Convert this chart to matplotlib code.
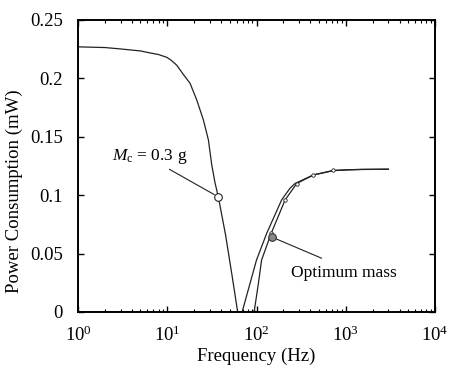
import matplotlib
matplotlib.use("Agg")
import matplotlib.pyplot as plt
from matplotlib.ticker import FixedLocator, FixedFormatter, LogLocator, NullFormatter

plt.rcParams['font.family'] = ['Liberation Serif', 'DejaVu Serif']
plt.rcParams['mathtext.fontset'] = 'custom'
plt.rcParams['mathtext.rm'] = 'Liberation Serif'
plt.rcParams['mathtext.it'] = 'Liberation Serif:italic'

# Curve: Mc = 0.3 g
freq_mc = [1, 2, 3, 5, 6.4, 8, 9.9, 11.2, 12.8, 15.1, 18, 21.4, 25.4, 28.9, 31.5, 34.3,
           37.3, 45, 53, 61.5, 69,
           84.6, 100, 130, 191, 237, 270, 433, 725, 1000, 1500, 3000]
power_mc = [0.227, 0.2264, 0.2252, 0.2235, 0.2218, 0.2204, 0.2180, 0.2152, 0.2112,
            0.2035, 0.1958, 0.1815, 0.1644, 0.1473, 0.1260, 0.1105,
            0.0987, 0.066, 0.032, 0.0, 0.0,
            0.0245, 0.0445, 0.0673, 0.0959, 0.1059, 0.110, 0.1173, 0.1210, 0.1216,
            0.1220, 0.1222]

# Curve: Optimum mass
freq_opt = [1, 10, 50, 94, 105, 114, 146, 209, 282, 433, 725, 1000, 1500, 3000]
power_opt = [0.0, 0.0, 0.0, 0.0, 0.0245, 0.0445, 0.0673, 0.0959, 0.110, 0.1173,
             0.1212, 0.1217, 0.1221, 0.1223]

# Marker points
mc_point = (37.0, 0.0987)
opt_point = (150, 0.064)

y_ticks = [0, 0.05, 0.1, 0.15, 0.2, 0.25]
y_ticklabels = ["0", "0.05", "0.1", "0.15", "0.2", "0.25"]

fig = plt.figure(figsize=(4.57, 3.70), dpi=100)
ax = fig.add_axes([0.1707, 0.1568, 0.7812, 0.7892])

ax.plot(freq_mc, power_mc, color='#222222', lw=0.9)
ax.plot(freq_opt, power_opt, color='#222222', lw=0.9, marker='o', ms=2.5,
        mfc='white', mec='#222222', mew=0.6, markevery=[3, 6, 7, 8, 9, 10])

ax.plot(*mc_point, marker='o', ms=5.5, mfc='white', mec='#222222', mew=0.8, zorder=5)
ax.plot(*opt_point, marker='o', ms=5.5, mfc='#888888', mec='#333333', mew=0.8, zorder=5)

ax.annotate(r"$M_{\mathrm{c}}$ = 0.3 g", xy=mc_point, xytext=(6.3, 0.1327),
            ha='center', va='center', fontsize=12.5,
            arrowprops=dict(arrowstyle='-', color='#222222', lw=0.8,
                            shrinkA=0, shrinkB=3, relpos=(0.7, 0.0)))
ax.annotate("", xy=opt_point, xytext=(537, 0.046),
            arrowprops=dict(arrowstyle='-', color='#222222', lw=0.8,
                            shrinkA=0, shrinkB=2))
ax.text(955, 0.0334, "Optimum mass", ha='center', va='center', fontsize=12.5)

ax.set_xscale('log')
ax.set_xlim(1, 1e4)
ax.set_ylim(0, 0.25)
ax.yaxis.set_major_locator(FixedLocator(y_ticks))
ax.yaxis.set_major_formatter(FixedFormatter(y_ticklabels))
ax.xaxis.set_major_locator(LogLocator(base=10, numticks=10))
ax.xaxis.set_minor_locator(LogLocator(base=10, subs=range(2, 10), numticks=20))
ax.xaxis.set_minor_formatter(NullFormatter())

ax.tick_params(which='both', direction='in', top=True, right=True, color='black')
ax.tick_params(which='major', length=4, width=1, labelsize=13.5)
ax.tick_params(which='minor', length=2.5, width=0.8)
ax.tick_params(axis='x', pad=10)
ax.tick_params(axis='y', pad=11)
for s in ax.spines.values():
    s.set_linewidth(1.4)

ax.set_xlabel("Frequency (Hz)", fontsize=13.5, labelpad=2)
ax.set_ylabel("Power Consumption (mW)", fontsize=13.5)
ax.yaxis.set_label_coords(-0.155, 0.414)

fig.savefig("out.png", dpi=100)
